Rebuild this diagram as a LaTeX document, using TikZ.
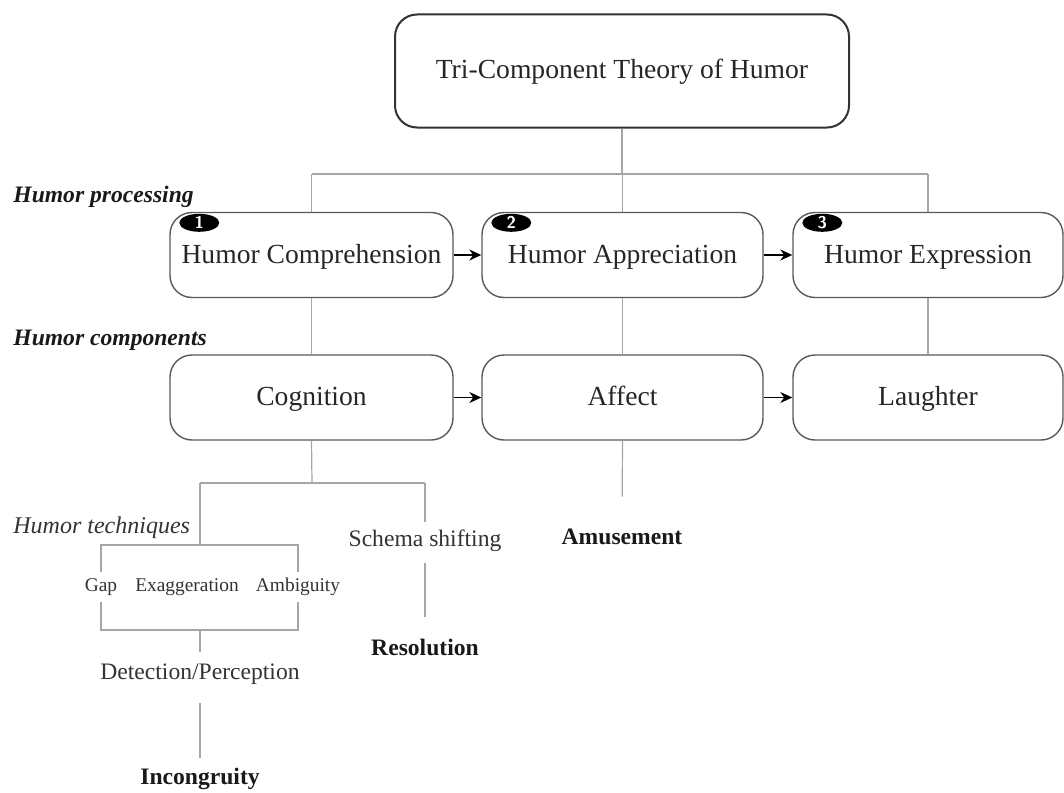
\documentclass[tikz,border=0pt]{standalone}
\usepackage{fontspec}
\setmainfont{Liberation Serif}
\usepackage{xcolor}
\usetikzlibrary{arrows.meta,positioning,shapes.geometric,calc}
\tikzset{
  stage/.style={rectangle, rounded corners=11pt, draw=black!65, line width=0.7pt,
    align=center, font=\fontsize{13.8}{16}\selectfont, text=black!85,
    text height=10.5pt, text depth=2.5pt,
    minimum width=#1, minimum height=42.5pt, inner sep=2pt},
  headbox/.style={stage=227pt, draw=black!80, line width=1pt, minimum height=56.5pt},
  badge/.style={ellipse, fill=black, text=white, inner sep=0pt,
    minimum width=20pt, minimum height=9pt, font=\sffamily\bfseries\fontsize{8.5}{9}\selectfont},
  side/.style={anchor=west, inner sep=0pt, text=black!90,
    font=\fontsize{11.8}{13}\selectfont\bfseries\itshape},
  txt/.style={inner sep=0pt, text height=8pt, text depth=2pt, text=black!80,
    font=\fontsize{11.8}{13}\selectfont},
  res/.style={txt, font=\fontsize{11.8}{13}\selectfont\bfseries, text=black!90},
  tech/.style={inner sep=0pt, minimum height=15pt, text=black!80,
    font=\fontsize{9.7}{11}\selectfont},
  link/.style={draw=black!35, line width=0.6pt},
  flow/.style={-{Stealth[length=6pt, width=5.5pt]}, line width=0.8pt, black},
}
\begin{document}
\begin{tikzpicture}[x=0.5pt, y=-0.5pt]
\useasboundingbox (0,0) rectangle (1064,792);
% theory
\node[headbox] (theory) at (622,71) {Tri-Component Theory of Humor};
% processing row
\node[stage=141.5pt] (comp)   at (311.5,255) {Humor Comprehension};
\node[stage=140.5pt] (appr)   at (622.5,255) {Humor Appreciation};
\node[stage=135pt]   (expr)   at (928,255)   {Humor Expression};
\node[badge] (b1) at ([xshift=15pt, yshift=-5.5pt]comp.north west) {1};
\node[badge] (b2) at ([xshift=15pt, yshift=-5.5pt]appr.north west) {2};
\node[badge] (b3) at ([xshift=15pt, yshift=-5.5pt]expr.north west) {3};
% component row
\node[stage=141.5pt] (cogn)   at (311.5,397.5) {Cognition};
\node[stage=140.5pt] (affect) at (622.5,397.5) {Affect};
\node[stage=135pt]   (laugh)  at (928,397.5)   {Laughter};
% side labels
\node[side] (lproc) at (13,197) {Humor processing};
\node[side] (lcomp) at (13,340) {Humor components};
\node[side, font=\fontsize{12}{13}\selectfont\itshape, text=black!80] (ltech) at (13,528) {Humor techniques};
% lower texts
\node[tech] (gap)   at (101,587) {Gap};
\node[tech] (exag)  at (187,587) {Exaggeration};
\node[tech] (ambig) at (298,587) {Ambiguity};
\node[txt] (detect) at (200,673) {Detection/Perception};
\node[res] (incong) at (200,778) {Incongruity};
\node[txt] (schema) at (425,540) {Schema shifting};
\node[res] (resol)  at (425,649) {Resolution};
\node[res] (amuse)  at (622,538) {Amusement};
% junctions
\coordinate (hub)  at (622,174);
\coordinate (cj)   at (312,483);
\coordinate (ttop) at (200,545);
\coordinate (tbot) at (200,630);
% tree
\draw[link] (theory.south) -- (hub);
\draw[link] (comp.north |- hub) -- (expr.north |- hub);
\draw[link] (comp.north |- hub) -- (comp.north);
\draw[link] (appr.north |- hub) -- (appr.north);
\draw[link] (expr.north |- hub) -- (expr.north);
\draw[link] (comp) -- (cogn);
\draw[link] (appr) -- (affect);
\draw[link] (expr) -- (laugh);
\draw[link] (cogn.south) -- (cj);
\draw[link] (ttop |- cj) -- (schema.north |- cj);
\draw[link] (ttop |- cj) -- (ttop);
\draw[link, shorten >=4pt] (schema.north |- cj) -- (schema.north);
\draw[link, shorten <=6.5pt, shorten >=11pt] (schema.south) -- (resol.north);
\draw[link, shorten >=15.5pt] (affect.south) -- (amuse.north);
% technique bracket
\draw[link] (gap.north) -- (gap.north |- ttop) -- (ambig.north |- ttop) -- (ambig.north);
\draw[link] (gap.south) -- (gap.south |- tbot) -- (ambig.south |- tbot) -- (ambig.south);
\draw[link, shorten >=5.5pt] (tbot) -- (detect.north);
\draw[link, shorten <=10pt, shorten >=5pt] (detect.south) -- (incong.north);
% arrows
\draw[flow] (comp) -- (appr);
\draw[flow] (appr) -- (expr);
\draw[flow] (cogn) -- (affect);
\draw[flow] (affect) -- (laugh);
\end{tikzpicture}
\end{document}
